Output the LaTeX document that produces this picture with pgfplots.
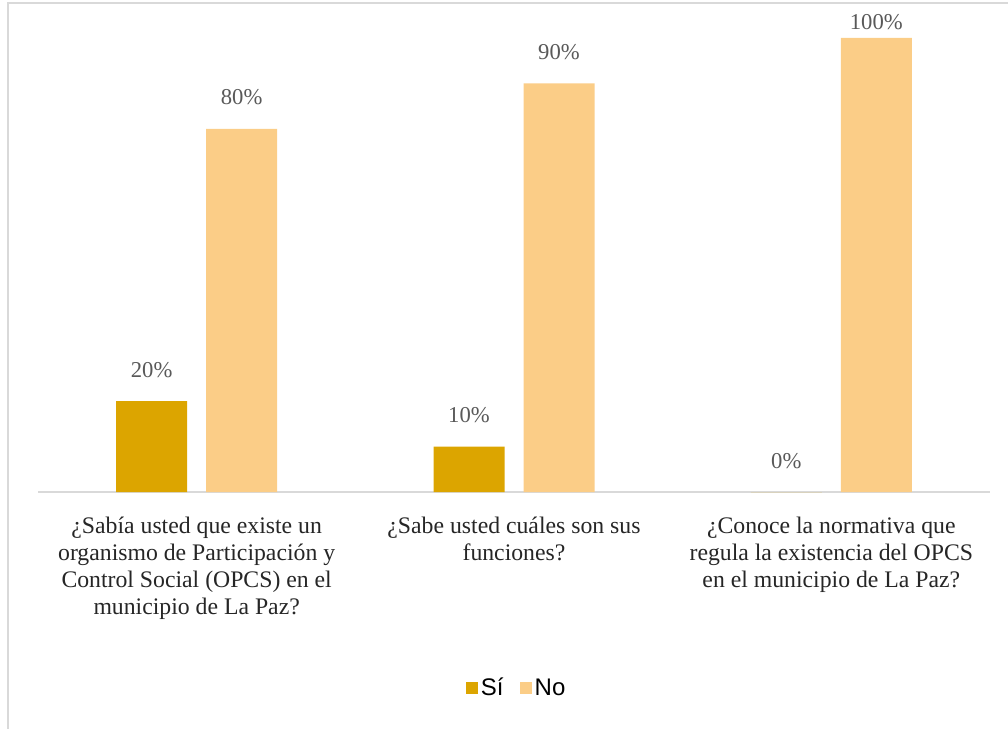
\documentclass[border=0pt]{standalone}
\usepackage{pgfplots}
\pgfplotsset{compat=1.18}
\usepackage{fontspec}
\setmainfont{Liberation Serif}
\newfontfamily\arial{Liberation Sans}
\definecolor{si}{HTML}{DCA500}
\definecolor{no}{HTML}{FBCD87}
\definecolor{frame}{HTML}{D9D9D9}
\definecolor{lbl}{HTML}{595959}
\begin{document}
\begin{tikzpicture}
\useasboundingbox (0,0) rectangle (756pt,546.75pt);
\draw[frame,line width=1.5pt] (6pt,0) -- (6pt,544.5pt) -- (756pt,544.5pt);
\begin{axis}[
  at={(28.5pt,177.75pt)}, anchor=south west,
  scale only axis, width=714pt, height=340.5pt,
  ymin=0, ymax=100, xmin=-0.5, xmax=2.5,
  ybar=14.25pt, bar width=53.25pt,
  axis x line*=bottom, axis y line=none,
  x axis line style={frame, line width=1.1pt, -},
  xtick=data, xtick style={draw=none}, ymajorticks=false,
  xticklabels={{¿Sabía usted que existe un\\organismo de Participación y\\Control Social (OPCS) en el\\municipio de La Paz?},{¿Sabe usted cuáles son sus\\funciones?},{¿Conoce la normativa que\\regula la existencia del OPCS\\en el municipio de La Paz?}},
  xticklabel style={align=center, anchor=north, yshift=-11pt, text=black!85, font=\fontsize{17.8pt}{20.25pt}\selectfont},
  /pgf/number format/assume math mode=true,
  nodes near coords={\pgfmathprintnumber{\pgfplotspointmeta}\%},
  every node near coord/.append style={anchor=base, yshift=18pt, text=lbl, font=\fontsize{17pt}{20pt}\selectfont},
  coordinate style/.condition={y>99}{yshift=-12pt},
  legend columns=2,
  legend style={at={(0.503,-0.432)}, anchor=center, draw=none, font=\arial\fontsize{18pt}{20pt}\selectfont, /tikz/every even column/.append style={column sep=10pt}},
  legend image code/.code={\fill[#1] (0pt,-4.7pt) rectangle (9.4pt,4.7pt);},
]
\addplot[fill=si, draw=none] coordinates {(0,20) (1,10) (2,0)};
\addplot[fill=no, draw=none] coordinates {(0,80) (1,90) (2,100)};
\legend{Sí,No}
\end{axis}
\end{tikzpicture}
\end{document}
